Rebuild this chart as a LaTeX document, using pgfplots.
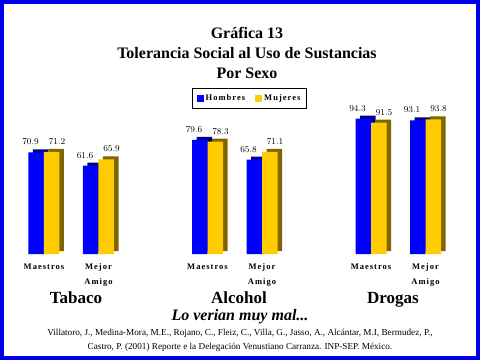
\documentclass[border=0pt]{standalone}
\usepackage{pgfplots}
\pgfplotsset{compat=1.18}
\usepackage{fontspec}
\setmainfont{Liberation Serif}
\newfontfamily\ls[LetterSpace=12, UprightFont={Liberation Serif Bold}]{Liberation Serif}
\definecolor{hblue}{HTML}{0000FF}
\definecolor{hbluedark}{HTML}{000090}
\definecolor{myellow}{HTML}{FFCC00}
\definecolor{myellowdark}{HTML}{806600}
\definecolor{frameblue}{HTML}{0000F0}
\begin{document}
\begin{tikzpicture}
\useasboundingbox (0,0) rectangle (480pt,360pt);
\fill[white] (0,0) rectangle (480pt,360pt);
\draw[frameblue, line width=4pt] (2pt,2pt) rectangle (478pt,358pt);
\begin{axis}[
  scale only axis,
  at={(3.125pt,106pt)}, anchor=south west,
  width=463.25pt, height=143.5pt,
  xmin=-0.75, xmax=7.75, ymin=0, ymax=100,
  axis line style={draw=none},
  ymajorticks=false,
  major tick length=0pt,
  xtick={0,1,3,4,6,7},
  xticklabels={Maestros,Mejor\\Amigo,Maestros,Mejor\\Amigo,Maestros,Mejor\\Amigo},
  xticklabel style={font=\ls\fontsize{8.5}{15}\selectfont, align=center, anchor=north, yshift=-6pt},
  clip=false,
  legend columns=2,
  legend style={at={(0.532,1.0836)}, anchor=center, draw=black, line width=0.8pt,
    font=\ls\fontsize{8.5}{10}\selectfont, inner xsep=4pt, inner ysep=4pt,
    /tikz/every even column/.append style={column sep=8pt}},
  legend image code/.code={\fill[#1] (0pt,-3.5pt) rectangle (7pt,3.5pt);},
  nodes near coords={\pgfmathprintnumber[fixed,fixed zerofill,precision=1]{\pgfplotspointmeta}},
  every node near coord/.append style={font=\ls\fontsize{9}{10}\selectfont, anchor=south, yshift=4pt, text=black},
]
% depth (side and top faces) of the Hombres bars
\addplot[ybar, bar width=15.5pt, bar shift=-7.75pt, fill=hbluedark, draw=none, xshift=4.5pt, yshift=3pt, forget plot, nodes near coords={}]
  coordinates {(0,70.9) (1,61.6) (3,79.6) (4,65.8) (6,94.3) (7,93.1)};
% Hombres
\addplot[ybar, bar width=15.5pt, bar shift=-7.75pt, fill=hblue, draw=none,
  every node near coord/.append style={xshift=-13.5pt}]
  coordinates {(0,70.9) (1,61.6) (3,79.6) (4,65.8) (6,94.3) (7,93.1)};
\addlegendentry{Hombres}
% depth of the Mujeres bars
\addplot[ybar, bar width=15.5pt, bar shift=7.75pt, fill=myellowdark, draw=none, xshift=4.5pt, yshift=3pt, forget plot, nodes near coords={}]
  coordinates {(0,71.2) (1,65.9) (3,78.3) (4,71.1) (6,91.5) (7,93.8)};
% Mujeres
\addplot[ybar, bar width=15.5pt, bar shift=7.75pt, fill=myellow, draw=none,
  every node near coord/.append style={xshift=13pt}]
  coordinates {(0,71.2) (1,65.9) (3,78.3) (4,71.1) (6,91.5) (7,93.8)};
\addlegendentry{Mujeres}
\end{axis}
\node[font=\bfseries\fontsize{16}{18}\selectfont] at (247pt,327pt) {Gráfica 13};
\node[font=\bfseries\fontsize{16}{18}\selectfont] at (247pt,307pt) {Tolerancia Social al Uso de Sustancias};
\node[font=\bfseries\fontsize{16}{18}\selectfont] at (247pt,287pt) {Por Sexo};
\node[font=\bfseries\fontsize{17}{18}\selectfont, anchor=base] at (76pt,57pt) {Tabaco};
\node[font=\bfseries\fontsize{17}{18}\selectfont, anchor=base] at (239pt,57pt) {Alcohol};
\node[font=\bfseries\fontsize{17}{18}\selectfont, anchor=base] at (393pt,57pt) {Drogas};
\node[font=\bfseries\itshape\fontsize{16}{18}\selectfont, anchor=base] at (240pt,40pt) {Lo verian muy mal...};
\node[font=\fontsize{9.2}{14}\selectfont, align=center] at (240pt,20pt) {Villatoro, J., Medina-Mora, M.E., Rojano, C., Fleiz, C., Villa, G., Jasso, A., Alcántar, M.I, Bermudez, P.,\\Castro, P. (2001) Reporte e la Delegación Venustiano Carranza. INP-SEP. México.};
\end{tikzpicture}
\end{document}
